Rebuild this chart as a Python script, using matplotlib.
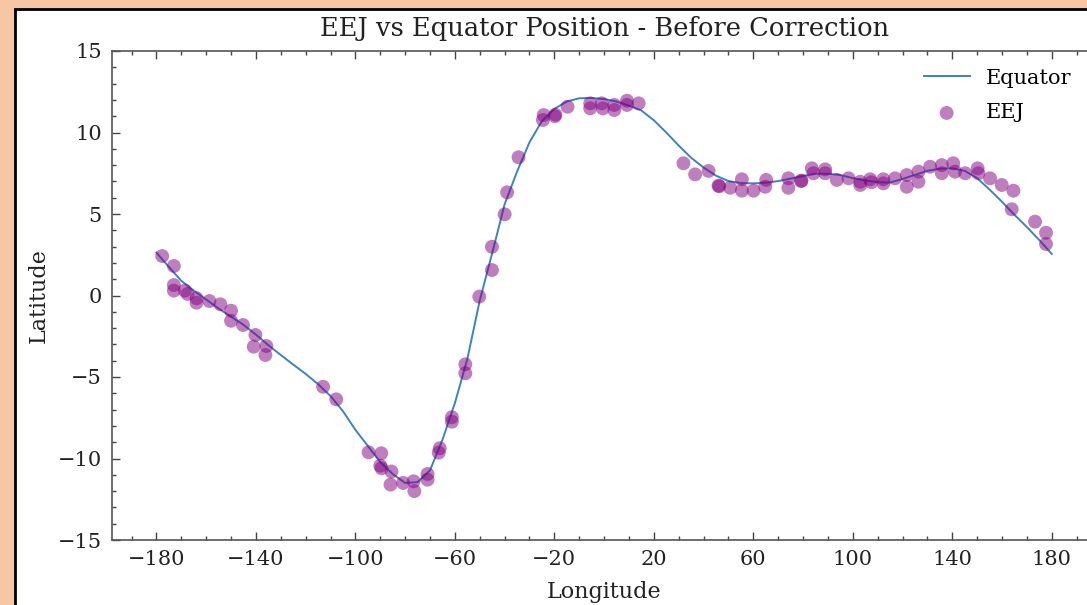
import numpy as np
import matplotlib
matplotlib.use("Agg")
import matplotlib.pyplot as plt
from matplotlib.patches import Rectangle
from matplotlib.ticker import MultipleLocator

# Equator line (read every 5 degrees)
eq_lon = list(range(-180, 181, 5))
eq_lat = [2.63, 1.75, 0.9, 0.3, -0.25, -0.8, -1.3, -1.8, -2.4, -3.05, -3.65, -4.24, -4.81,
          -5.44, -6.17, -7.1, -8.24, -9.23, -10.22, -10.95, -11.5, -11.45, -10.72, -8.85,
          -6.6, -3.9, -0.3, 2.6, 5.6, 7.6, 9.4, 10.7, 11.45, 11.9, 12.1, 12.12, 12.05,
          11.9, 11.65, 11.35, 10.75, 10.0, 9.2, 8.45, 7.85, 7.35, 7.02, 6.9, 6.88, 6.92,
          7.02, 7.17, 7.33, 7.47, 7.47, 7.39, 7.2, 7.06, 6.95, 6.93, 7.15, 7.4, 7.65,
          7.78, 7.8, 7.65, 7.2, 6.5, 5.75, 4.95, 4.2, 3.4, 2.55]

# EEJ observations
eej_lon = [-177.7, -173.0, -173.0, -173.0, -168.6, -167.5, -163.9, -163.9, -158.7, -154.3,
           -150.0, -150.0, -145.2, -140.2, -140.9, -135.8, -136.2, -113.0, -107.7,
           -94.7, -89.6, -90.0, -89.5, -85.5, -85.9, -80.8, -76.6, -76.3, -71.0, -71.0,
           -66.1, -66.5, -61.2, -61.2, -55.8, -55.8,
           -50.2, -45.1, -45.1, -40.0, -39.0, -34.4, -24.6, -24.3, -19.6, -19.8, -14.7,
           -5.6, -5.6, -0.9, -0.5, 4.1, 4.1, 9.2, 9.2, 13.9,
           31.9, 36.6, 42.0, 46.0, 46.3, 50.7, 55.4, 55.4, 60.1, 65.2, 64.8, 74.1, 74.1,
           79.2, 79.4, 83.5, 84.2, 88.9, 88.9, 93.6, 98.3, 103.0, 103.0, 107.0, 107.5,
           112.3, 112.3, 117.0, 121.7, 121.7, 126.4, 126.4, 131.1, 135.8, 135.8, 140.4,
           141.1, 145.2, 150.2, 150.5, 155.2, 159.9, 164.6, 163.9, 173.3, 177.7, 177.7]
eej_lat = [2.42, 1.81, 0.64, 0.3, 0.3, 0.1, -0.17, -0.44, -0.34, -0.54,
           -0.93, -1.55, -1.81, -2.42, -3.14, -3.1, -3.65, -5.6, -6.37,
           -9.62, -9.68, -10.44, -10.6, -10.8, -11.6, -11.5, -11.4, -12.0, -10.95, -11.3,
           -9.37, -9.64, -7.47, -7.74, -4.22, -4.77,
           -0.07, 1.56, 2.99, 4.98, 6.33, 8.48, 10.77, 11.07, 11.1, 11.0, 11.58,
           11.48, 11.79, 11.79, 11.48, 11.38, 11.69, 11.95, 11.69, 11.79,
           8.11, 7.43, 7.64, 6.74, 6.7, 6.61, 7.13, 6.43, 6.43, 7.09, 6.67, 7.19, 6.61,
           7.02, 7.05, 7.8, 7.5, 7.74, 7.5, 7.09, 7.19, 6.98, 6.78, 7.13, 6.95,
           7.13, 6.88, 7.19, 7.39, 6.67, 7.6, 6.98, 7.9, 8.0, 7.5, 8.11,
           7.6, 7.5, 7.8, 7.5, 7.19, 6.78, 6.43, 5.29, 4.53, 3.85, 3.16]

plt.rcParams['font.family'] = ['DejaVu Serif']
plt.rcParams['mathtext.fontset'] = 'dejavuserif'

W, H = 1087, 605
fig = plt.figure(figsize=(W / 100, H / 100), dpi=100)
fig.patch.set_facecolor('#f8c6a4')
frame = Rectangle((15 / W, -0.2), 1.5, 1.2 - 8.5 / H, transform=fig.transFigure,
                  facecolor='white', edgecolor='black', linewidth=2.0, zorder=-5)
fig.patches.append(frame)

ax = fig.add_axes([111.7 / W, 1 - 540 / H, (1096.5 - 111.7) / W, (540 - 51) / H])
ax.plot(eq_lon, eq_lat, color='#3d82c4', linewidth=1.4, label='Equator')
ax.scatter(eej_lon, eej_lat, s=100, color='purple', alpha=0.5, edgecolors='none',
           label='EEJ', zorder=3)

ax.set_ylim(-15, 15)
ax.set_xticks(list(range(-180, 181, 40)))
ax.xaxis.set_minor_locator(MultipleLocator(10))
ax.yaxis.set_major_locator(MultipleLocator(5))
ax.yaxis.set_minor_locator(MultipleLocator(1))
ax.tick_params(which='both', direction='in', top=True, right=True, colors='#444444',
               labelcolor='#222222', labelsize=15)
ax.tick_params(which='major', length=6, width=1, pad=7)
ax.tick_params(which='minor', length=3, width=1)
for s in ax.spines.values():
    s.set_color('#555555')
    s.set_linewidth(1.2)

ax.set_title('EEJ vs Equator Position - Before Correction', fontsize=18.5, color='#222222', pad=11)
ax.set_xlabel('Longitude', fontsize=16, color='#222222', labelpad=9)
ax.set_ylabel('Latitude', fontsize=16, color='#222222', labelpad=6)

leg = ax.legend(loc='upper left', bbox_to_anchor=((905 - 111.7) / (1096.5 - 111.7), 1.002),
                frameon=False, fontsize=15, handlelength=2.2, handletextpad=0.8,
                labelspacing=0.75)

fig.savefig('out.png', dpi=100, facecolor=fig.get_facecolor())
